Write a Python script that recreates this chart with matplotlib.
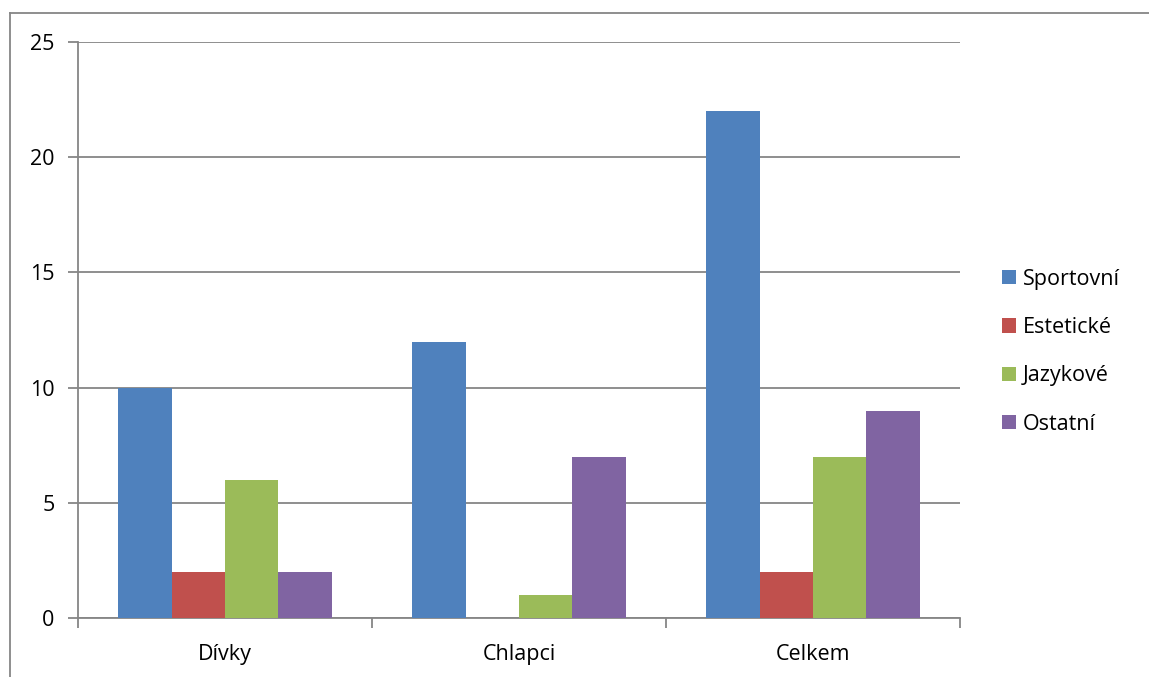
import numpy as np
import matplotlib.pyplot as plt
from matplotlib.lines import Line2D
from matplotlib.patches import Patch

# data
categories = ['Dívky', 'Chlapci', 'Celkem']
series = ['Sportovní', 'Estetické', 'Jazykové', 'Ostatní']
sportovni = [10, 12, 22]
esteticke = [2, 0, 2]
jazykove = [6, 1, 7]
ostatni = [2, 7, 9]
colors = ['#4F81BD', '#C0504D', '#9BBB59', '#8064A2']

plt.rcParams['font.family'] = ['Open Sans', 'DejaVu Sans']
fs = 15.5

fig = plt.figure(figsize=(11.49, 6.77), dpi=100)
ax = fig.add_axes([78/1149, 1 - 618/677, (960 - 78)/1149, (618 - 42)/677])

grid_c = '#868686'
x = np.arange(len(categories))
w = 1 / 5.5
values = [sportovni, esteticke, jazykove, ostatni]
for i, (vals, c) in enumerate(zip(values, colors)):
    ax.bar(x + (i - 1.5) * w, vals, width=w, color=c, zorder=3)

ax.set_xlim(-0.5, len(categories) - 0.5)
ax.set_ylim(0, 25)
ax.set_yticks(np.arange(0, 26, 5))
ax.yaxis.grid(True, color=grid_c, linewidth=1.3, zorder=0)
ax.set_axisbelow(True)

# category labels centred, ticks at the boundaries
ax.set_xticks(np.arange(-0.5, len(categories), 1.0))
ax.set_xticklabels([])
ax.set_xticks(x, minor=True)
ax.set_xticklabels(categories, minor=True)
ax.tick_params(axis='x', which='major', length=7, width=1.3, color=grid_c, direction='out')
ax.tick_params(axis='x', which='minor', length=0, pad=19, labelsize=fs)
ax.tick_params(axis='y', length=7, width=1.3, color=grid_c, pad=10, labelsize=fs)

for s in ['top', 'right']:
    ax.spines[s].set_visible(False)
for s in ['left', 'bottom']:
    ax.spines[s].set_color(grid_c)
    ax.spines[s].set_linewidth(1.3)

handles = [Patch(facecolor=c, edgecolor='none') for c in colors]
fig.legend(handles, series, loc='upper left', bbox_to_anchor=(991/1149, 1 - 258/677),
           frameon=False, fontsize=fs, handlelength=0.65, handleheight=0.65,
           handletextpad=0.33, labelspacing=1.27, borderpad=0)

# outer chart frame (cut off at right and bottom)
fig.add_artist(Line2D([10/1149, 10/1149], [0, 1 - 13/677], transform=fig.transFigure,
                      color=grid_c, linewidth=1.3))
fig.add_artist(Line2D([10/1149, 1], [1 - 13/677, 1 - 13/677], transform=fig.transFigure,
                      color=grid_c, linewidth=1.3))

plt.savefig('out.png', dpi=100)
